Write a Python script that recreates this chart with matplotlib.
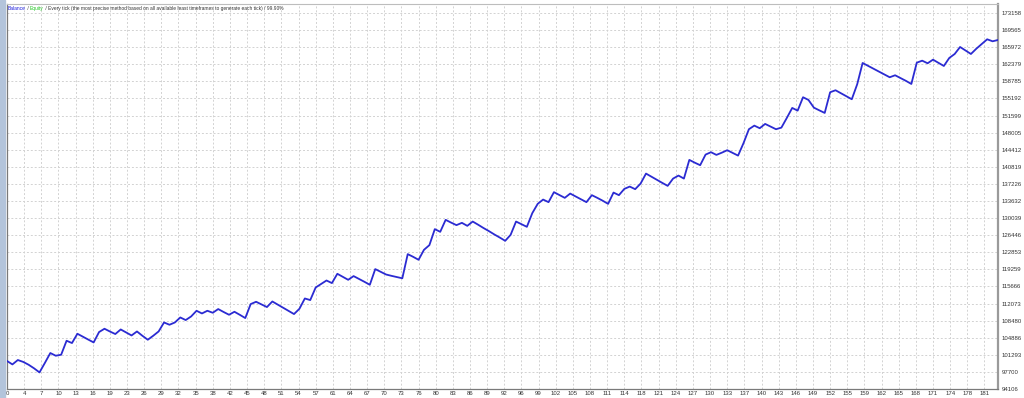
import matplotlib
matplotlib.use("Agg")
import matplotlib.pyplot as plt
import numpy as np
from matplotlib.patches import Rectangle

# ------------------------------
# Data
# ------------------------------

balance = [
    100000, 99275, 100199, 99800, 99200, 98450, 97594, 99600, 101670, 101102,
    101312, 104254, 103771, 105724, 105100, 104500, 103897, 106082, 106775, 106200,
    105662, 106628, 106000, 105367, 106208, 105300, 104464, 105300, 106208, 108099,
    107615, 108099, 109149, 108603, 109359, 110557, 109990, 110557, 110137, 110914,
    110300, 109717, 110346, 109700, 109023, 111965, 112448, 111900, 111334, 112511,
    111850, 111200, 110550, 109864, 110977, 113141, 112805, 115452, 116200, 116923,
    116377, 118331, 117700, 117067, 117847, 117250, 116650, 116019, 119318, 118750,
    118183, 117900, 117650, 117385, 122470, 121900, 121272, 123373, 124360, 127722,
    127155, 129676, 129100, 128562, 129046, 128415, 129319, 128650, 127950, 127300,
    126600, 125950, 125264, 126525, 129319, 128750, 128206, 131084, 133038, 133941,
    133395, 135496, 134900, 134299, 135202, 134600, 134000, 133395, 134865, 134300,
    133700, 133038, 135412, 134865, 136189, 136672, 136126, 137303, 139404, 138750,
    138100, 137450, 136820, 138353, 138983, 138353, 142282, 141700, 141168, 143395,
    143900, 143332, 143800, 144320, 143750, 143185, 145791, 148732, 149488, 148942,
    149846, 149300, 148732, 149068, 151100, 153207, 152640, 155455, 154888, 153270,
    152700, 152157, 156506, 156926, 156300, 155650, 155035, 158187, 162662, 162060,
    161460, 160860, 160260, 159657, 160077, 159500, 158900, 158250, 162725, 163146,
    162599, 163356, 162700, 162032, 163713, 164553, 166024, 165300, 164553, 165666,
    166650, 167641, 167221, 167494,
]

y_tick_labels = [
    "94106", "97700", "101293", "104886", "108480", "112073", "115666", "119259",
    "122853", "126446", "130039", "133632", "137226", "140819", "144412", "148005",
    "151599", "155192", "158785", "162379", "165972", "169565", "173158",
]

x_tick_labels = [
    0, 4, 7, 10, 13, 16, 19, 23, 26, 29, 32, 35, 38, 42, 45, 48, 51, 54, 57, 61,
    64, 67, 70, 73, 76, 80, 83, 86, 89, 92, 96, 99, 102, 105, 108, 111, 114, 118,
    121, 124, 127, 130, 133, 137, 140, 143, 146, 149, 152, 155, 159, 162, 165, 168,
    171, 174, 178, 181,
]

title_parts = [
    ("Balance", "#1a1adc"),
    (" / ", "#333333"),
    ("Equity", "#1fc41f"),
    (" / Every tick (the most precise method based on all available least "
     "timeframes to generate each tick) / 99.90%", "#333333"),
]

# ------------------------------
# Figure
# ------------------------------

W, H = 1024, 398
fig = plt.figure(figsize=(W / 100, H / 100), dpi=100)
fig.patch.set_facecolor("white")
plt.rcParams["font.family"] = ["Liberation Sans", "DejaVu Sans"]

# window chrome strip on the left
fig.patches.append(
    Rectangle((0, 0), 5 / W, 1, transform=fig.transFigure, color="#b3c4db", zorder=0)
)

ax = fig.add_axes([7 / W, 9 / H, 991 / W, 385 / H])

trades = np.arange(len(balance))
ax.plot(trades, balance, color="#2b2bd2", lw=1.3, zorder=3)

# axes limits / ticks
y_vals = [int(s) for s in y_tick_labels]
step = (y_vals[-1] - y_vals[0]) / (len(y_vals) - 1)
ax.set_ylim(y_vals[0], y_vals[-1] + step * 0.53)
ax.set_xlim(0, len(balance) - 1)

ax.yaxis.tick_right()
ax.set_yticks(y_vals)
ax.set_yticklabels(y_tick_labels)

x_pos = [k * 19 / 6 for k in range(len(x_tick_labels))]
ax.set_xticks(x_pos)
ax.set_xticklabels([str(v) for v in x_tick_labels])

ax.tick_params(axis="y", length=0, pad=2.5, labelsize=4.3, labelcolor="#333333")
ax.tick_params(axis="x", length=0, pad=1.2, labelsize=4.3, labelcolor="#333333")

ax.grid(True, color="#d2d2d2", linestyle=(0, (2, 2)), lw=0.7)
ax.set_axisbelow(True)

for side in ("left", "bottom"):
    ax.spines[side].set_color("#7a7a7a")
    ax.spines[side].set_linewidth(0.9)
ax.spines["right"].set_color("#9a9a9a")
ax.spines["right"].set_linewidth(1.6)
ax.spines["top"].set_color("#bdbdbd")
ax.spines["top"].set_linewidth(0.8)

# coloured header text, pieces chained one after another
prev = fig.text(8 / W, 1 - 10 / H, title_parts[0][0], color=title_parts[0][1],
                fontsize=3.5, ha="left", va="baseline")
for txt, col in title_parts[1:]:
    prev = ax.annotate(txt, xy=(1, 0), xycoords=prev, ha="left", va="bottom",
                       color=col, fontsize=3.5, annotation_clip=False)

fig.savefig("out.png", dpi=100)
plt.close(fig)
